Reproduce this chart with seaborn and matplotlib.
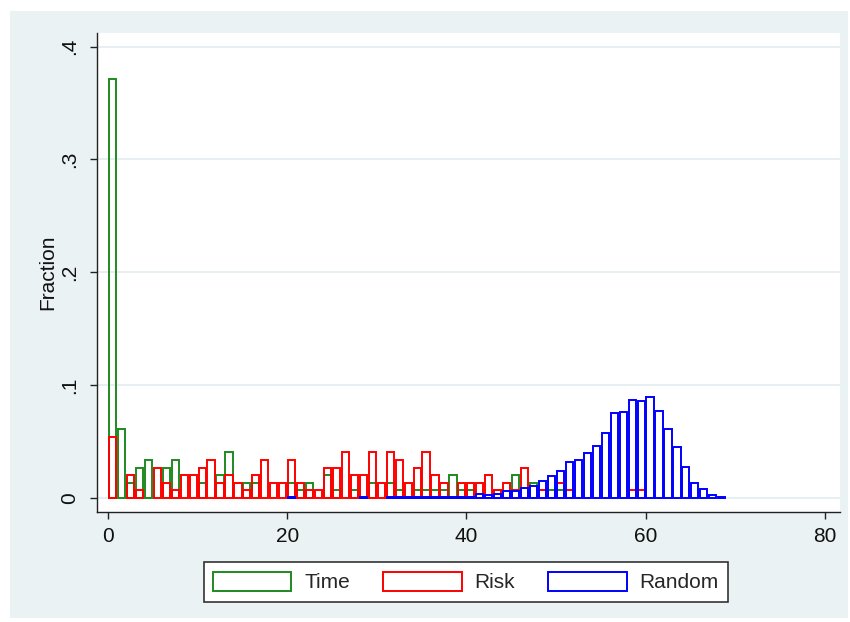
import numpy as np
import pandas as pd
import seaborn as sns
import matplotlib.pyplot as plt
from matplotlib.patches import Rectangle, Patch

sns.set_theme(style="ticks")
plt.rcParams['font.family'] = ['Liberation Sans', 'DejaVu Sans']

# Observations per group for Time and Risk (bars are count / n_obs)
n_obs = 148

# Counts per unit-width bin starting at 0
time_counts = [55, 9, 2, 4, 5, 0, 4, 5, 0, 0, 2, 0, 3, 6, 0, 2, 2, 0, 0, 0,
               2, 1, 2, 0, 3, 1, 0, 1, 0, 2, 0, 2, 1, 0, 1, 1, 1, 1, 3, 1,
               1, 0, 0, 1, 0, 3, 0, 2, 1, 1, 1]
risk_counts = [8, 0, 3, 1, 0, 4, 2, 1, 3, 3, 4, 5, 2, 3, 2, 1, 3, 5, 2, 2,
               5, 2, 1, 1, 4, 4, 6, 3, 3, 6, 2, 6, 5, 2, 4, 6, 3, 2, 0, 2,
               2, 2, 3, 1, 2, 1, 4, 0, 1, 0, 2, 1, 0, 0, 0, 0, 0, 0, 1, 1]

# Random: bin start and fraction
random_bins = [20, 28, 31, 32, 33, 34, 35, 36, 37, 38, 39, 40, 41, 42, 43, 44,
               45, 46, 47, 48, 49, 50, 51, 52, 53, 54, 55, 56, 57, 58, 59, 60,
               61, 62, 63, 64, 65, 66, 67, 68]
random_frac = [0.0012, 0.0012, 0.0012, 0.0012, 0.0006, 0.0006, 0.0006, 0.0008,
               0.0008, 0.0010, 0.0010, 0.0012, 0.0032, 0.0030, 0.0035, 0.0058,
               0.0065, 0.0093, 0.0108, 0.0154, 0.0195, 0.0238, 0.0322, 0.0337,
               0.0396, 0.0458, 0.0580, 0.0751, 0.0759, 0.0872, 0.0857, 0.0892,
               0.0768, 0.0612, 0.0449, 0.0272, 0.0136, 0.0080, 0.0027, 0.0010]

series_names = ["Time", "Risk", "Random"]
series_colors = ["#1f8a1f", "#ff0000", "#0000ff"]

x_ticks = [0, 20, 40, 60, 80]
y_ticks = [0, 0.1, 0.2, 0.3, 0.4]
y_tick_labels = ["0", ".1", ".2", ".3", ".4"]

frames = [
    pd.DataFrame({"series": "Time", "x": np.arange(len(time_counts)) + 0.5,
                  "w": np.array(time_counts) / n_obs}),
    pd.DataFrame({"series": "Risk", "x": np.arange(len(risk_counts)) + 0.5,
                  "w": np.array(risk_counts) / n_obs}),
    pd.DataFrame({"series": "Random", "x": np.array(random_bins) + 0.5,
                  "w": random_frac}),
]
df = pd.concat(frames, ignore_index=True)

W, H = 850, 622
fs = 15
fig = plt.figure(figsize=(W / 100, H / 100), dpi=100)
fig.patch.set_facecolor("white")
fig.patches.append(Rectangle((10 / W, 1 - 618 / H), (848 - 10) / W, (618 - 11) / H,
                             transform=fig.transFigure, facecolor="#eaf2f3",
                             edgecolor="none", zorder=-5))

ax = fig.add_axes([97 / W, 1 - 512 / H, (840 - 97) / W, (512 - 33) / H])
ax.set_zorder(2)
ax.set_facecolor("white")

lw = 1.4
for i, (name, color) in enumerate(zip(series_names, series_colors)):
    sub = df[df["series"] == name]
    sns.histplot(data=sub, x="x", weights="w", binwidth=1, binrange=(0, 69),
                 stat="count", element="bars", fill=False, shrink=0.8,
                 color=color, linewidth=lw, ax=ax, zorder=3 + i)

# empty bins are not drawn
for p in list(ax.patches):
    if p.get_height() == 0:
        p.remove()

ax.set_xlim(-1.23, 81.7)
ax.set_ylim(-0.0124, 0.412)
ax.set_xticks(x_ticks)
ax.set_xticklabels([str(t) for t in x_ticks])
ax.set_yticks(y_ticks)
ax.set_yticklabels(y_tick_labels, rotation=90, va="center")
ax.set_xlabel("")
ax.set_ylabel("Fraction", fontsize=fs, labelpad=2, color="#111111")

ax.yaxis.grid(True, color="#e6eef1", linewidth=1.3)
ax.set_axisbelow(True)
for s in ["top", "right"]:
    ax.spines[s].set_visible(False)
for s in ["left", "bottom"]:
    ax.spines[s].set_color("#222222")
    ax.spines[s].set_linewidth(1.0)
ax.tick_params(axis="both", direction="out", length=5, width=1.0,
               color="#222222", labelsize=fs, labelcolor="#111111")
ax.tick_params(axis="x", pad=6)
ax.tick_params(axis="y", pad=8)

handles = [Patch(facecolor="none", edgecolor=c, linewidth=1.4) for c in series_colors]
leg = fig.legend(handles, series_names, loc="center",
                 bbox_to_anchor=(466 / W, 1 - 582 / H), ncol=3, frameon=True,
                 fancybox=False, edgecolor="#333333", facecolor="white",
                 framealpha=1, fontsize=fs, handlelength=3.75,
                 handleheight=1.05, handletextpad=0.62, columnspacing=1.6,
                 borderpad=0.45)
leg.get_frame().set_linewidth(1.2)

fig.savefig("out.png", dpi=100)
